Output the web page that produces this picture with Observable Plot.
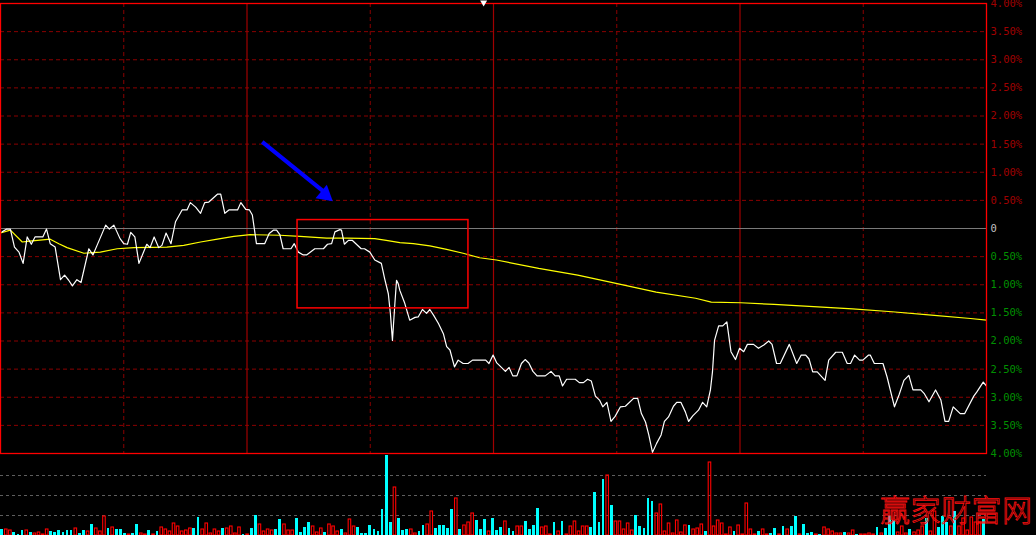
<!DOCTYPE html>
<html><head><meta charset="utf-8">
<script src="https://cdn.jsdelivr.net/npm/d3@7"></script>
<script src="https://cdn.jsdelivr.net/npm/@observablehq/plot@0.6"></script>
<style>
html,body{margin:0;padding:0;background:#000;width:1036px;height:535px;overflow:hidden;}
#wrap{position:relative;width:1036px;height:535px;background:#000;}
#price{position:absolute;left:0;top:0;}
#vol{position:absolute;left:0;top:455px;}
#mark{position:absolute;left:880px;top:493px;font-family:"Noto Sans CJK SC";font-weight:300;font-size:30px;line-height:1;color:transparent;-webkit-text-stroke:0.8px #ff1010;letter-spacing:0.5px;white-space:nowrap;}
</style></head><body>
<div id="wrap"><div id="price"></div><div id="vol"></div><div id="mark">赢家财富网</div></div>
<script>
// ---- data: minute of session (0..240) and % change vs previous close ----
const priceSeries = [
[0.4,-0.06],[1.5,-0.01],[2.4,-0.01],[3.4,-0.33],[4.5,-0.42],[5.5,-0.62],[6.5,-0.15],[7.5,-0.28],[8.4,-0.15],[10.3,-0.15],
[11.2,-0.01],[12.1,-0.27],[13.3,-0.33],[14.6,-0.91],[15.6,-0.83],[16.6,-0.92],[17.5,-1.02],[18.6,-0.91],[19.6,-0.96],[21.5,-0.36],
[22.5,-0.47],[23.5,-0.30],[25.6,0.06],[26.5,-0.01],[27.6,0.06],[29.1,-0.18],[30.0,-0.27],[30.9,-0.28],[31.7,-0.07],[32.7,-0.15],
[33.7,-0.62],[35.6,-0.28],[36.4,-0.34],[37.4,-0.15],[38.5,-0.34],[39.3,-0.30],[40.3,-0.08],[41.5,-0.27],[42.6,0.12],[44.2,0.33],
[45.4,0.33],[46.2,0.46],[47.5,0.38],[48.7,0.27],[49.7,0.46],[50.7,0.47],[52.8,0.61],[53.6,0.61],[54.6,0.27],[55.6,0.33],
[57.7,0.33],[58.5,0.46],[59.7,0.34],
[60.6,0.33],[61.3,0.24],[62.3,-0.27],[64.3,-0.27],[65.4,-0.09],[66.4,-0.03],[67.2,-0.03],[68.0,-0.11],[68.8,-0.36],[70.7,-0.36],
[71.5,-0.27],[72.5,-0.42],[73.7,-0.47],[74.5,-0.47],[76.5,-0.36],[78.6,-0.36],[79.6,-0.28],[80.6,-0.27],[81.4,-0.06],[82.6,-0.02],
[83.0,-0.03],[83.7,-0.28],[84.7,-0.21],[85.6,-0.21],[87.8,-0.36],[88.6,-0.36],[89.9,-0.42],[91.1,-0.56],[92.7,-0.62],[93.5,-0.89],
[94.4,-1.16],[94.9,-1.51],[95.4,-1.99],[96.0,-1.33],[96.4,-0.92],[96.8,-0.98],[97.2,-1.10],[98.4,-1.33],[99.6,-1.63],[100.9,-1.58],
[101.7,-1.57],[102.7,-1.44],[103.7,-1.51],[104.5,-1.44],[105.4,-1.54],[106.6,-1.69],[107.8,-1.87],[108.6,-2.10],[109.4,-2.16],[110.5,-2.46],
[111.4,-2.34],[112.6,-2.40],[113.8,-2.40],[114.9,-2.34],[118.1,-2.34],[118.9,-2.40],[119.9,-2.25],
[120.8,-2.39],[121.8,-2.46],[122.9,-2.54],[123.8,-2.47],[124.7,-2.62],[125.7,-2.62],[126.8,-2.40],[127.7,-2.33],[128.6,-2.39],[129.6,-2.54],
[130.6,-2.62],[132.6,-2.62],[134.0,-2.54],[135.0,-2.62],[136.0,-2.62],[136.8,-2.80],[137.8,-2.68],[139.9,-2.68],[140.9,-2.74],[141.9,-2.74],
[142.9,-2.68],[143.8,-2.71],[144.8,-2.98],[145.8,-3.05],[146.6,-3.17],[147.6,-3.09],[148.6,-3.43],[149.6,-3.34],[150.9,-3.17],[152.1,-3.16],
[154.1,-3.02],[155.1,-3.02],[156.0,-3.29],[157.0,-3.44],[157.8,-3.67],[158.7,-3.98],[159.7,-3.82],[160.8,-3.67],[161.6,-3.43],[162.6,-3.35],
[163.8,-3.16],[164.6,-3.09],[165.6,-3.09],[166.7,-3.26],[167.5,-3.43],[168.5,-3.33],[169.9,-3.23],[170.9,-3.09],[171.9,-3.17],[172.8,-2.87],
[173.3,-2.55],[173.8,-1.99],[174.8,-1.73],[175.8,-1.73],[176.8,-1.66],[177.8,-2.19],[178.9,-2.33],[179.9,-2.13],[180.9,-2.19],
[181.8,-2.06],[183.3,-2.06],[184.5,-2.13],[185.8,-2.07],[187.0,-2.00],[187.8,-2.06],[188.9,-2.40],[189.8,-2.40],[192.0,-2.06],[193.8,-2.40],
[194.9,-2.25],[196.0,-2.25],[196.8,-2.32],[197.7,-2.55],[198.8,-2.55],[200.7,-2.70],[201.6,-2.34],[203.3,-2.20],[204.9,-2.20],[206.1,-2.40],
[206.9,-2.40],[207.9,-2.25],[209.1,-2.34],[209.9,-2.34],[211.3,-2.25],[211.7,-2.25],[212.7,-2.40],[214.8,-2.40],[215.8,-2.64],[217.6,-3.17],
[218.7,-2.96],[219.9,-2.70],[221.1,-2.61],[222.1,-2.87],[224.0,-2.87],[224.8,-2.93],[226.0,-3.08],[227.6,-2.87],[228.9,-3.05],[229.9,-3.43],
[230.8,-3.43],[231.9,-3.17],[233.6,-3.29],[234.7,-3.29],[236.9,-2.98],[237.7,-2.90],[239.2,-2.73],[240.0,-2.80]
];
const avgSeries = [
[0,-0.08],[2.4,-0.03],[5.3,-0.24],[6.5,-0.23],[12.1,-0.19],[14.2,-0.27],[16.2,-0.34],[20.3,-0.44],[22.3,-0.43],[24.3,-0.42],
[28.4,-0.36],[32.5,-0.34],[40.5,-0.33],[44.6,-0.30],[48.7,-0.24],[52.8,-0.19],[56.8,-0.14],[60.8,-0.11],[68.0,-0.12],[72.9,-0.14],
[79.4,-0.17],[84.3,-0.17],[91.1,-0.18],[93.9,-0.21],[97.2,-0.25],[100.5,-0.27],[104.5,-0.31],[108.6,-0.37],[112.6,-0.44],[116.6,-0.52],
[120.7,-0.56],[131.0,-0.71],[140.5,-0.83],[150.1,-0.98],[159.6,-1.13],[169.2,-1.24],[173.0,-1.31],[180.2,-1.32],[188.3,-1.35],[197.9,-1.39],
[207.4,-1.43],[217.0,-1.48],[226.6,-1.54],[236.1,-1.60],[240.0,-1.63]
];
// volume per minute (relative units) and bar type: r = up (hollow red), c = down (cyan)
const volume = [
6,6,5,3,1,5,5,3,2,3, 1,6,4,3,5,3,5,5,7,2, 5,4,11,7,4,19,7,8,6,6, 2,1,2,11,2,1,5,1,4,8,
6,4,12,9,4,5,7,7,18,6, 12,2,6,4,7,7,9,2,8,1, 1,7,20,11,4,6,5,6,16,11, 5,5,17,3,8,13,9,3,7,3,
11,9,4,6,2,16,9,8,2,2, 10,6,4,26,81,13,48,17,5,6, 6,2,4,10,11,24,7,10,10,7, 26,37,6,10,13,22,15,6,16,4,
17,5,8,14,7,4,9,
9,14,6,10,27,8,9,1,13,4, 14,1,9,14,4,9,9,8,43,13, 56,60,30,14,14,6,12,5,20,9, 7,37,34,22,31,4,12,2,15,3,
10,10,6,7,11,4,73,9,15,12, 1,8,4,10,1,32,6,1,4,6, 1,2,7,1,9,6,9,19,1,11, 2,3,1,1,8,6,4,2,2,3,
2,5,1,1,1,2,1,8,2,7, 19,15,3,9,2,6,3,5,9,17, 4,24,8,19,13,9,24,9,17,5, 18,13,13,16
];
const volumeDir =
"crrcccrcrr"+"rrccccccrc"+"crcrrrcrcc"+"crccrrcrcr"+"rrrrrrrccr"+"rrrrcrrrrc"+"rccrrrrccr"+"rrccccrrrc"+
"rrrcrrrccc"+"ccccccrccc"+"rrccrrcccc"+"crcrrrcccr"+"cccrccr"+
"rccccrrrcr"+"crrrrrrccc"+"crcrrrrrcc"+"cccrrrrrrr"+"rcrrrcrrrr"+"rrcrrrrrcr"+"rccrcrccrc"+"ccrcrrrrrc"+
"rrcrrrrcrc"+"ccrrrcrrrc"+"rrcccrcrrr"+"rrrc";

// axis ticks / labels
const pctTicks = [4,3.5,3,2.5,2,1.5,1,0.5,0,-0.5,-1,-1.5,-2,-2.5,-3,-3.5,-4];
const pctLabels = ["4.00%","3.50%","3.00%","2.50%","2.00%","1.50%","1.00%","0.50%","0","0.50%","1.00%","1.50%","2.00%","2.50%","3.00%","3.50%","4.00%"];
const gridPct = [3.5,3,2.5,2,1.5,1,0.5,-0.5,-1,-1.5,-2,-2.5,-3,-3.5];
const halfHourMinutes = [30,90,150,210];
const hourMinutes = [60,120,180];
const volumeGrid = [20,40,60];

// annotations
const highlight = [{start:72.3, end:113.9, top:0.15, bottom:-1.42}];
const arrowShaft = [{x1:63.7, y1:1.54, x2:78.6, y2:0.66}];
const arrowHead = [{minute:79.0, pct:0.60}];
const sessionMarker = [{minute:117.6, pct:4}];

const ticks = pctTicks.map((v,i)=>({v, label:pctLabels[i]}));
const font = "DejaVu Sans Mono";
const crisp = {shapeRendering:"crispEdges"};

const main = Plot.plot({
  width:1036, height:455, marginTop:3, marginBottom:2, marginLeft:0, marginRight:50,
  x:{domain:[0,240], axis:null},
  y:{domain:[-4,4], axis:null},
  style:{background:"transparent", overflow:"visible", fontFamily:font},
  marks:[
    Plot.ruleY(gridPct, {stroke:"#8a0000", strokeDasharray:"4,3"}),
    Plot.ruleX(halfHourMinutes, {stroke:"#8a0000", strokeDasharray:"4,3"}),
    Plot.ruleX(hourMinutes, {stroke:"#a00000", strokeWidth:1.2}),
    Plot.ruleY([0], {stroke:"#7a7a7a"}),
    Plot.line(avgSeries, {x:d=>d[0], y:d=>d[1], stroke:"#ffff00", strokeWidth:1.2}),
    Plot.line(priceSeries, {x:d=>d[0], y:d=>d[1], stroke:"#ffffff", strokeWidth:1.2}),
    Plot.rect(highlight, {x1:"start", x2:"end", y1:"top", y2:"bottom", fill:"none", stroke:"#ff0000", strokeWidth:1.5}),
    Plot.link(arrowShaft, {x1:"x1", y1:"y1", x2:"x2", y2:"y2", stroke:"#0000ff", strokeWidth:4}),
    Plot.dot(arrowHead, {x:"minute", y:"pct", symbol:"triangle", rotate:130, r:6.5, fill:"#0000ff"}),
    Plot.frame({stroke:"#ff0000", strokeWidth:1.3}),
    Plot.dot(sessionMarker, {x:"minute", y:"pct", symbol:"triangle", rotate:180, r:2.6, fill:"#ffffff", dy:-1}),
    Plot.text(ticks.filter(d=>d.v>0), {y:"v", text:"label", frameAnchor:"right", dx:4, textAnchor:"start", fill:"#a00000", fontSize:10.5, fontFamily:font}),
    Plot.text(ticks.filter(d=>d.v<0), {y:"v", text:"label", frameAnchor:"right", dx:4, textAnchor:"start", fill:"#009000", fontSize:10.5, fontFamily:font}),
    Plot.text(ticks.filter(d=>d.v===0), {y:"v", text:"label", frameAnchor:"right", dx:4, textAnchor:"start", fill:"#c0c0c0", fontSize:10.5, fontFamily:font})
  ]
});
document.getElementById("price").appendChild(main);

const bars = volume.map((v,i)=>({i, v, up: volumeDir[i]==="r"}));
const vol = Plot.plot({
  width:1036, height:80, marginTop:0, marginBottom:0, marginLeft:0, marginRight:50,
  x:{domain:[0,241], axis:null},
  y:{domain:[0,80], axis:null},
  style:{background:"transparent", overflow:"hidden"},
  marks:[
    Plot.ruleY(volumeGrid, {stroke:"#5e5e5e", strokeDasharray:"3,3", ...crisp}),
    Plot.rect(bars.filter(d=>!d.up), {x1:d=>d.i+0.05, x2:d=>d.i+0.72, y1:0, y2:"v", fill:"#00ffff", ...crisp}),
    Plot.rect(bars.filter(d=>d.up), {x1:d=>d.i+0.1, x2:d=>d.i+0.72, y1:0, y2:"v", fill:"none", stroke:"#ff0000", strokeWidth:1.1})
  ]
});
document.getElementById("vol").appendChild(vol);
</script>
</body></html>
